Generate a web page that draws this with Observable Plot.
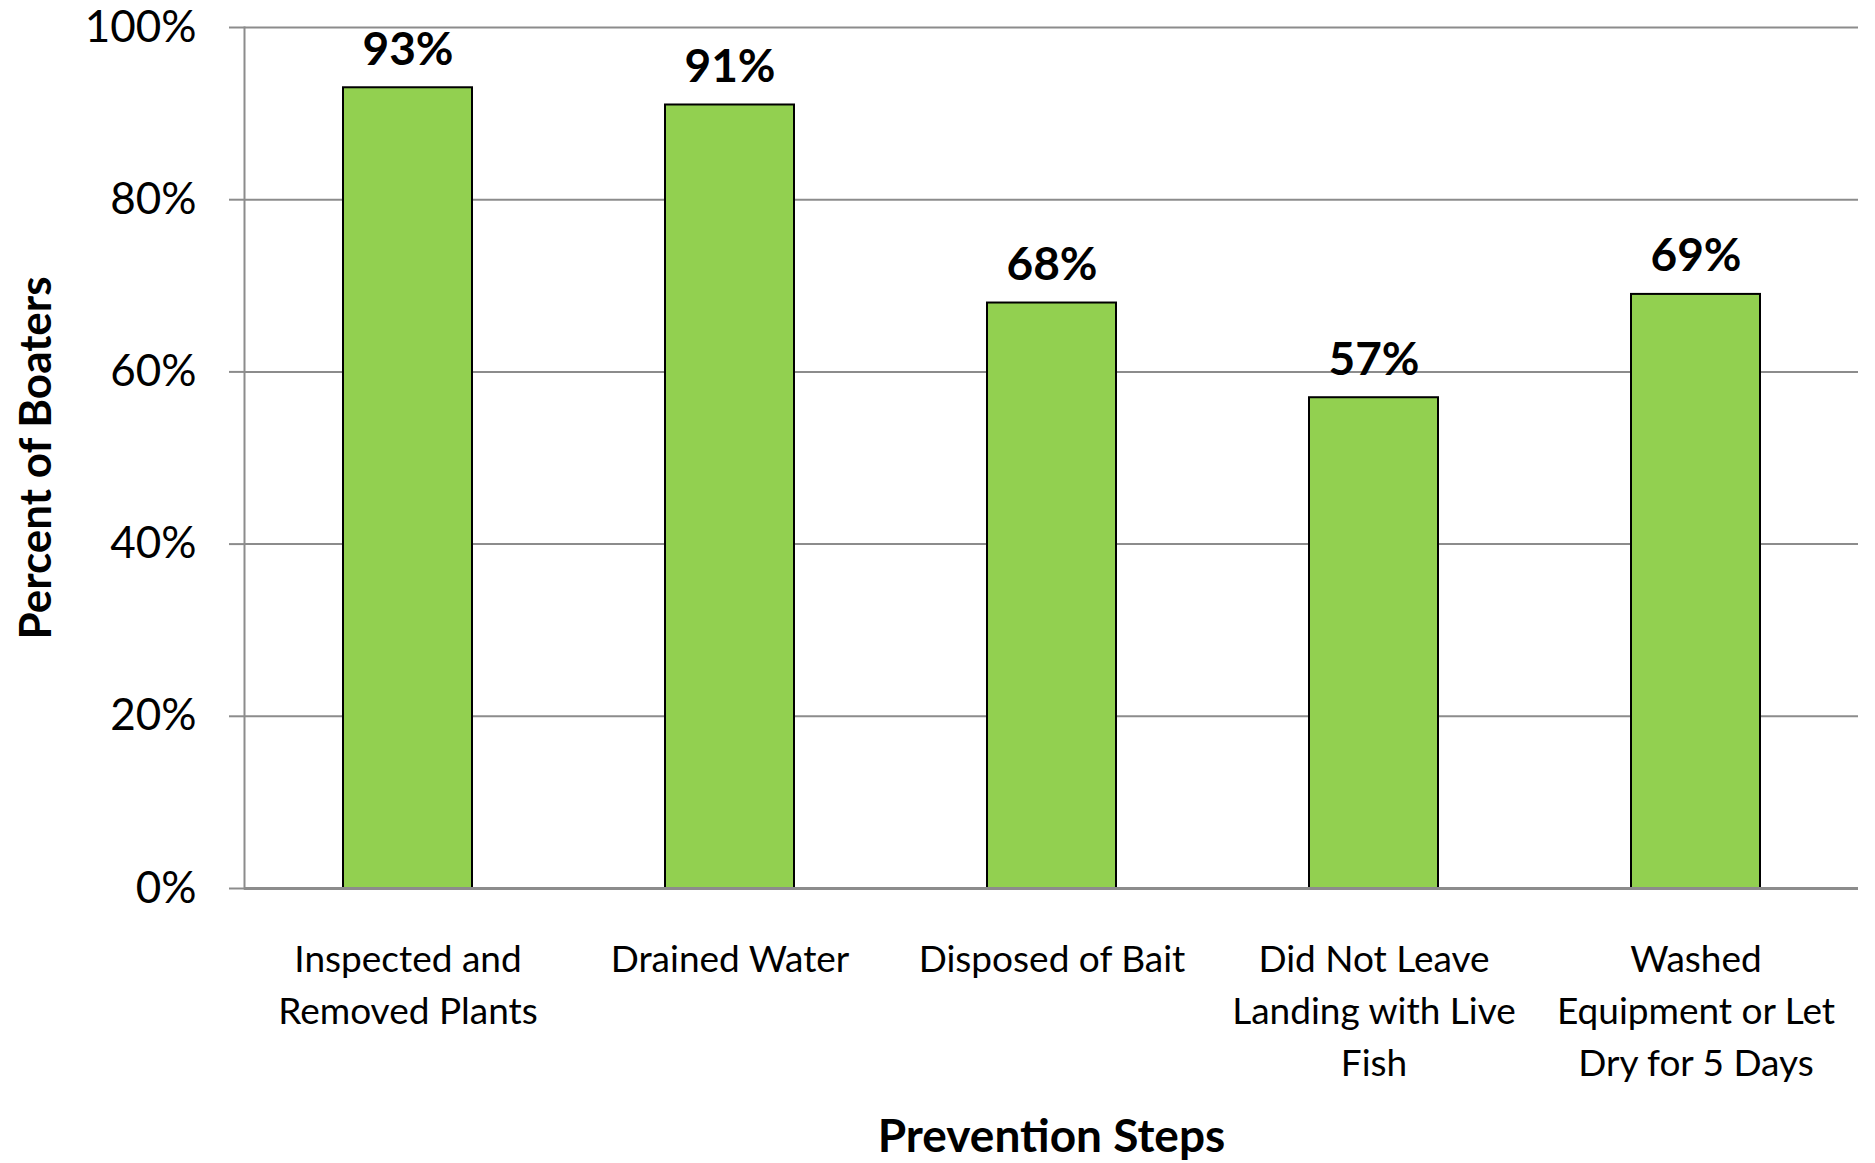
<!DOCTYPE html>
<html>
<head>
<meta charset="utf-8">
<script src="https://cdn.jsdelivr.net/npm/d3@7"></script>
<script src="https://cdn.jsdelivr.net/npm/@observablehq/plot@0.6"></script>
<style>
  html, body { margin: 0; padding: 0; background: #fff; }
  #chart svg { display: block; font-family: Lato, "Open Sans", sans-serif; }
</style>
</head>
<body>
<div id="chart"></div>
<script>
const categories = [
  "Inspected and Removed Plants",
  "Drained Water",
  "Disposed of Bait",
  "Did Not Leave Landing with Live Fish",
  "Washed Equipment or Let Dry for 5 Days"
];
const categoryLabels = [
  "Inspected and\nRemoved Plants",
  "Drained Water",
  "Disposed of Bait",
  "Did Not Leave\nLanding with Live\nFish",
  "Washed\nEquipment or Let\nDry for 5 Days"
];
const values = [93, 91, 68, 57, 69];
const yTicks = [0, 20, 40, 60, 80, 100];
const yTickLabels = ["0%", "20%", "40%", "60%", "80%", "100%"];
const xTitle = "Prevention Steps";
const yTitle = "Percent of Boaters";

const data = categories.map((c, i) => ({category: c, value: values[i], label: values[i] + "%"}));
const labelOf = new Map(categories.map((c, i) => [c, categoryLabels[i]]));
const tickLabelOf = new Map(yTicks.map((t, i) => [t, yTickLabels[i]]));

const chart = Plot.plot({
  width: 1875,
  height: 1163,
  marginTop: 27,
  marginBottom: 275,
  marginLeft: 244,
  marginRight: 17,
  style: {fontFamily: "Lato, 'Open Sans', sans-serif", color: "#000", background: "#fff"},
  x: {domain: categories, paddingInner: 0.6, paddingOuter: 0.3, label: null},
  y: {domain: [0, 100], label: null},
  marks: [
    Plot.gridY(yTicks, {stroke: "#8c8c8c", strokeOpacity: 1, strokeWidth: 2}),
    Plot.axisY(yTicks, {
      tickSize: 15, tickPadding: 33, stroke: "#8c8c8c", strokeWidth: 2,
      tickFormat: d => tickLabelOf.get(d), fontSize: 44, fill: "#000", label: null
    }),
    Plot.frame({anchor: "left", stroke: "#8c8c8c", strokeWidth: 2}),
    Plot.barY(data, {x: "category", y: "value", fill: "#92D050", stroke: "#000", strokeWidth: 2}),
    Plot.ruleY([0], {stroke: "#8c8c8c", strokeWidth: 3}),
    Plot.text(data, {
      x: "category", y: "value", text: "label", lineAnchor: "bottom", dy: -23,
      fontSize: 46, fontWeight: "bold", fill: "#000"
    }),
    Plot.axisX({
      tickSize: 0, tickPadding: 46, fontSize: 37, lineHeight: 1.41, fill: "#000",
      tickFormat: d => labelOf.get(d), label: null
    }),
    Plot.text([xTitle], {
      frameAnchor: "bottom", lineAnchor: "top", dy: 231, fontSize: 46, fontWeight: "bold", fill: "#000"
    }),
    Plot.text([yTitle], {
      frameAnchor: "left", textAnchor: "middle", rotate: -90, dx: -208, fontSize: 44, fontWeight: "bold", fill: "#000"
    })
  ]
});
document.getElementById("chart").appendChild(chart);
</script>
</body>
</html>
